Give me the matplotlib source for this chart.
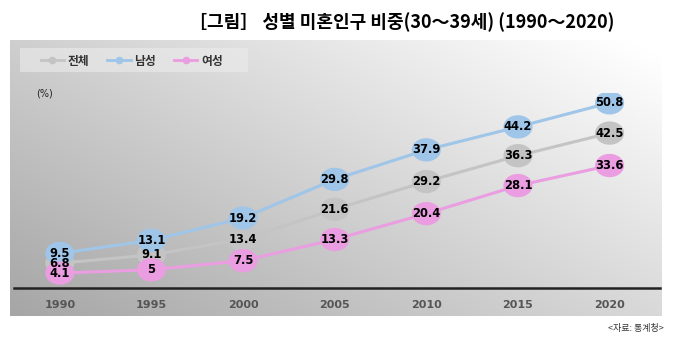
import matplotlib
matplotlib.use('Agg')

import numpy as np
import matplotlib.pyplot as plt
from matplotlib.lines import Line2D
from matplotlib.path import Path

plt.rcParams['font.family'] = ['Noto Sans CJK KR', 'DejaVu Sans']

years = ['1990', '1995', '2000', '2005', '2010', '2015', '2020']
total = [6.8, 9.1, 13.4, 21.6, 29.2, 36.3, 42.5]
male = [9.5, 13.1, 19.2, 29.8, 37.9, 44.2, 50.8]
female = [4.1, 5, 7.5, 13.3, 20.4, 28.1, 33.6]
labels = ['전체', '남성', '여성']
colors = ['#c4c4c4', '#9fc5e8', '#ea9de0']

W, H = 680, 341
fig = plt.figure(figsize=(W / 100, H / 100), dpi=100)
fig.patch.set_facecolor('white')

# gray gradient panel behind the chart (dark bottom-left -> light top-right)
bg = fig.add_axes([10 / W, 1 - 316 / H, 652 / W, 276 / H])
gx, gy = np.meshgrid(np.linspace(0, 1, 200), np.linspace(0, 1, 100))
grad = 0.65 + 0.2 * gx + 0.16 * gy
rgb = np.dstack([grad, grad, grad]).clip(0, 1)
bg.imshow(rgb, origin='lower', aspect='auto', extent=[0, 1, 0, 1])
bg.set_xlim(0, 1)
bg.set_ylim(0, 1)
bg.set_axis_off()

# legend strip
bg.add_patch(plt.Rectangle((10 / 652, 1 - 32 / 276), 228 / 652, 24 / 276,
                           transform=bg.transAxes, color='#ececec', alpha=0.6, lw=0))

# slightly wide oval markers like the original
t = np.linspace(0, 2 * np.pi, 60)
oval = Path(np.column_stack([1.25 * np.cos(t), np.sin(t)]), closed=True)

ax = fig.add_axes([14 / W, 1 - 288 / H, 646 / W, 195 / H])
ax.set_facecolor('none')
x = np.arange(len(years))
for vals, c in zip([total, male, female], colors):
    ax.plot(x, vals, color=c, lw=2.2, zorder=2)
    ax.scatter(x, vals, s=440, color=c, marker=oval, zorder=3, edgecolors='none')
    for xi, v in zip(x, vals):
        ax.text(xi, v, f'{v:g}', ha='center', va='center', fontsize=8.3,
                fontweight='bold', color='black', family='DejaVu Sans', zorder=4)

ax.set_xlim(-0.5, 6.55)
ax.set_ylim(0, 53.5)
for s in ['top', 'right', 'left']:
    ax.spines[s].set_visible(False)
ax.spines['bottom'].set_color('#222222')
ax.spines['bottom'].set_linewidth(1.8)
ax.set_yticks([])
ax.set_xticks(x)
ax.set_xticklabels(years, fontsize=8, fontweight='bold', color='#555555',
                   family='DejaVu Sans')
ax.tick_params(axis='x', length=0, pad=9)
ax.text(-0.17, 53.5, '(%)', ha='center', va='center', fontsize=7,
        color='#222222', family='DejaVu Sans')

handles = [Line2D([0], [0], color=c, lw=2, marker='o', markersize=4.5)
           for c in colors]
leg = fig.legend(handles, labels, loc='center left',
                 bbox_to_anchor=(30 / W, 1 - 61 / H), ncol=3, frameon=False,
                 fontsize=8.5, handlelength=2.0, columnspacing=1.5,
                 handletextpad=0.3)
for txt in leg.get_texts():
    txt.set_fontweight('bold')
    txt.set_color('#333333')

fig.text(402 / W, 1 - 22 / H, '［그림］ 성별 미혼인구 비중(30～39세) (1990～2020)',
         ha='center', va='center', fontsize=13, fontweight='bold')
fig.text(664 / W, 1 - 328 / H, '<자료: 통계청>', ha='right', va='center',
         fontsize=6.5, color='#333333')

fig.savefig('out.png', dpi=100)
